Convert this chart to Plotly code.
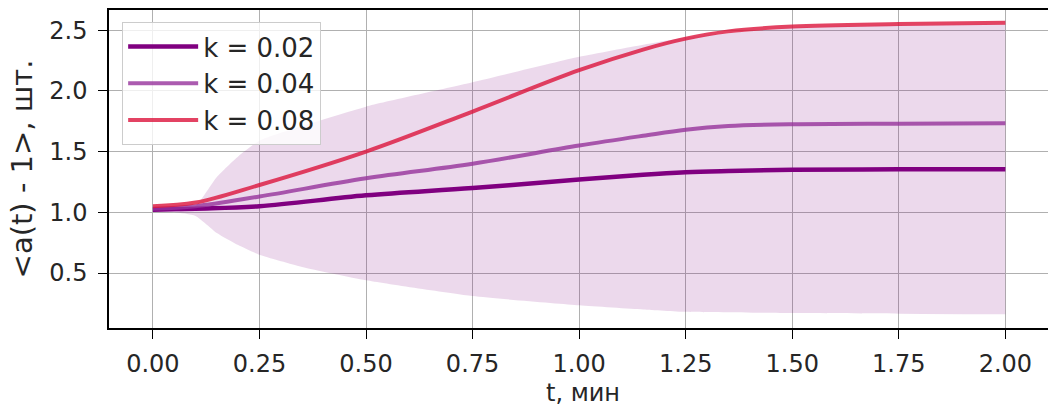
import plotly.graph_objects as go

# time points (minutes)
t = [0.0, 0.1, 0.25, 0.5, 0.75, 1.0, 1.15, 1.25, 1.35, 1.5, 1.75, 2.0]

k002 = [1.02, 1.03, 1.05, 1.14, 1.20, 1.27, 1.31, 1.33, 1.34, 1.35, 1.354, 1.354]
k004 = [1.03, 1.05, 1.13, 1.28, 1.40, 1.55, 1.63, 1.68, 1.71, 1.725, 1.73, 1.733]
k008 = [1.05, 1.08, 1.225, 1.50, 1.83, 2.17, 2.34, 2.43, 2.49, 2.53, 2.55, 2.56]

band_t = [0.0, 0.05, 0.1, 0.15, 0.2, 0.25, 0.35, 0.5, 0.75, 1.0, 1.15, 1.25, 1.5, 1.75, 2.0]
band_lo = [1.0, 1.0, 0.97, 0.83, 0.73, 0.65, 0.55, 0.44, 0.31, 0.235, 0.20, 0.18, 0.17, 0.165, 0.16]
band_hi = [1.0, 1.0, 1.05, 1.29, 1.46, 1.59, 1.71, 1.87, 2.07, 2.28, 2.38, 2.44, 2.52, 2.54, 2.55]

x_ticks = [0.0, 0.25, 0.5, 0.75, 1.0, 1.25, 1.5, 1.75, 2.0]
x_labels = ["0.00", "0.25", "0.50", "0.75", "1.00", "1.25", "1.50", "1.75", "2.00"]
y_ticks = [0.5, 1.0, 1.5, 2.0, 2.5]
y_labels = ["0.5", "1.0", "1.5", "2.0", "2.5"]
x_title = "t, мин"
y_title = "<a(t) - 1>, шт."

FONT = "DejaVu Sans"

fig = go.Figure()
fig.add_trace(go.Scatter(x=band_t, y=band_lo, mode="lines",
                         line=dict(width=0, shape="spline", smoothing=0.5),
                         showlegend=False, hoverinfo="skip"))
fig.add_trace(go.Scatter(x=band_t, y=band_hi, mode="lines",
                         line=dict(width=0, shape="spline", smoothing=0.5),
                         fill="tonexty", fillcolor="rgba(128,0,128,0.15)",
                         showlegend=False, hoverinfo="skip"))
fig.add_trace(go.Scatter(x=t, y=k002, mode="lines", name="k = 0.02",
                         line=dict(color="#800080", width=4.5, shape="spline")))
fig.add_trace(go.Scatter(x=t, y=k004, mode="lines", name="k = 0.04",
                         line=dict(color="rgba(150,50,155,0.8)", width=4, shape="spline")))
fig.add_trace(go.Scatter(x=t, y=k008, mode="lines", name="k = 0.08",
                         line=dict(color="rgba(220,20,60,0.8)", width=4, shape="spline")))

fig.add_annotation(text=x_title, xref="paper", yref="paper", x=0.505, y=-0.205,
                   xanchor="center", yanchor="middle", showarrow=False,
                   font=dict(family=FONT, size=24, color="#262626"))

fig.update_layout(
    width=1048, height=407,
    margin=dict(l=109, r=0, t=10, b=79),
    paper_bgcolor="white", plot_bgcolor="white",
    font=dict(family=FONT, size=24, color="#262626"),
    legend=dict(x=0.014, y=0.962, xanchor="left", yanchor="top",
                traceorder="normal", itemwidth=70,
                bgcolor="rgba(255,255,255,0.8)", bordercolor="#cccccc", borderwidth=1,
                font=dict(family=FONT, size=26, color="#262626")),
    xaxis=dict(range=[-0.103, 2.1], tickvals=x_ticks, ticktext=x_labels,
               showgrid=True, gridcolor="#b0b0b0", gridwidth=1,
               showline=True, linecolor="black", linewidth=1.5, mirror=True,
               ticks="outside", ticklen=9, tickcolor="black", zeroline=False,
               ticklabelstandoff=4, automargin=False),
    yaxis=dict(range=[0.047, 2.666], tickvals=y_ticks, ticktext=y_labels,
               showgrid=True, gridcolor="#b0b0b0", gridwidth=1,
               showline=True, linecolor="black", linewidth=1.5,
               ticks="outside", ticklen=9, tickcolor="black", zeroline=False,
               ticklabelstandoff=6, automargin=False,
               title=dict(text=y_title, standoff=8)),
)

fig.write_html("out.html")
